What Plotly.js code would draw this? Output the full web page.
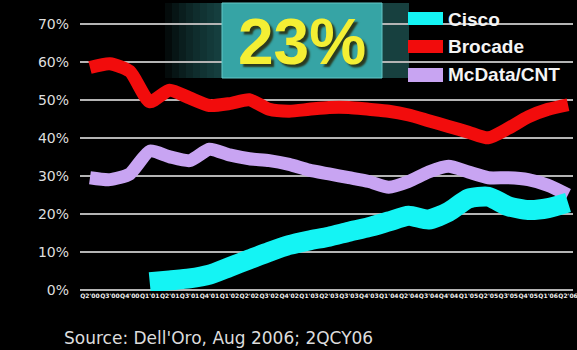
<!DOCTYPE html>
<html>
<head>
<meta charset="utf-8">
<script src="https://cdn.plot.ly/plotly-3.0.1.min.js"></script>
<style>
  html, body { margin: 0; padding: 0; background: #000; }
  #chart { width: 577px; height: 350px; }
</style>
</head>
<body>
<div id="chart"></div>
<script>
// ---- Data (market share, %) ----
const quarters = ["Q2'00","Q3'00","Q4'00","Q1'01","Q2'01","Q3'01","Q4'01",
  "Q1'02","Q2'02","Q3'02","Q4'02","Q1'03","Q2'03","Q3'03","Q4'03",
  "Q1'04","Q2'04","Q3'04","Q4'04","Q1'05","Q2'05","Q3'05","Q4'05",
  "Q1'06","Q2'06"];
const cisco   = [null,null,null,2,2.5,3,4,6,8,10,11.8,13,14,15.3,16.5,18,19.5,18.5,20.5,24,24.5,22,21,21.5,23];
const brocade = [58.5,59.5,57.5,49.5,52.5,50.5,48.5,49,50,47.5,47,47.5,48,48,47.5,47,46,44.5,43,41.5,40,42.5,45.5,47.5,48.7];
const mcdata  = [29.5,29,30.5,36.5,35,34,37,35.5,34.5,34,33,31.5,30.5,29.5,28.5,27,28.5,31,32.5,31,29.5,29.5,29,27.5,25];
const yTicks  = [0,10,20,30,40,50,60,70];
const yTickText = ["0%","10%","20%","30%","40%","50%","60%","70%"];
const seriesNames = ["Cisco","Brocade","McData/CNT"];
const headline = "23%";
const sourceNote = "Source: Dell'Oro, Aug 2006; 2QCY06";

const colors = { Cisco: "#14f4f4", Brocade: "#f20c0c", "McData/CNT": "#c8a4f2" };

// pixel helpers for decorations (plot area: x 80..573, y 1..291)
const L = 80, W = 493, T = 1, H = 290;
const px = v => (v - L) / W;
const py = v => (T + H - v) / H;

const traces = [
  { x: quarters, y: brocade, name: "Brocade", type: "scatter", mode: "lines",
    line: { color: colors.Brocade, width: 13, shape: "spline", smoothing: 0.6 }, hoverinfo: "skip" },
  { x: quarters, y: mcdata, name: "McData/CNT", type: "scatter", mode: "lines",
    line: { color: colors["McData/CNT"], width: 13, shape: "spline", smoothing: 0.6 }, hoverinfo: "skip" },
  { x: quarters, y: cisco, name: "Cisco", type: "scatter", mode: "lines", connectgaps: false,
    line: { color: colors.Cisco, width: 20, shape: "spline", smoothing: 0.6 }, hoverinfo: "skip" }
];

const shapes = [];
// left glow behind headline box
for (let i = 0; i < 8; i++) {
  shapes.push({ type: "rect", xref: "paper", yref: "paper", layer: "below",
    x0: px(165 + i * 7), x1: px(222), y0: py(78), y1: py(3),
    fillcolor: "#2b7f7c", opacity: 0.09, line: { width: 0 } });
}
// dark teal band right of the box
shapes.push({ type: "rect", xref: "paper", yref: "paper", layer: "below",
  x0: px(382), x1: px(409), y0: py(78), y1: py(3),
  fillcolor: "#17403f", line: { width: 0 } });
// black background behind legend
shapes.push({ type: "rect", xref: "paper", yref: "paper", layer: "between",
  x0: px(409), x1: px(580), y0: py(88), y1: py(-2),
  fillcolor: "#000000", line: { width: 0 } });
// headline box
shapes.push({ type: "rect", xref: "paper", yref: "paper", layer: "above",
  x0: px(222), x1: px(382), y0: py(78), y1: py(3),
  fillcolor: "#36a4a5", line: { color: "#62c6c6", width: 1 } });
// legend swatches
const swY = [[12, 25], [40, 53], [68, 82]];
seriesNames.forEach((n, i) => {
  shapes.push({ type: "rect", xref: "paper", yref: "paper", layer: "above",
    x0: px(408), x1: px(443), y0: py(swY[i][1]), y1: py(swY[i][0]),
    fillcolor: colors[n], line: { width: 0 } });
});

const annotations = [
  { text: headline, xref: "paper", yref: "paper", x: px(302), y: py(42),
    xanchor: "center", yanchor: "middle", showarrow: false,
    font: { family: "Liberation Sans, Arial, sans-serif", size: 64, color: "#f4ef34",
            weight: 700, shadow: "3px 3px 2px #2a3a20" } },
  { text: sourceNote, xref: "paper", yref: "paper", x: px(62), y: py(338),
    xanchor: "left", yanchor: "middle", showarrow: false,
    font: { family: "DejaVu Sans, sans-serif", size: 17, color: "#dcdcdc" } }
];
const labY = [19, 47, 75];
seriesNames.forEach((n, i) => {
  annotations.push({ text: n, xref: "paper", yref: "paper", x: px(446), y: py(labY[i]),
    xanchor: "left", yanchor: "middle", showarrow: false,
    font: { family: "Liberation Sans, Arial, sans-serif", size: 19, color: "#f4f4f4", weight: 700 } });
});

const layout = {
  width: 577, height: 350,
  paper_bgcolor: "#000", plot_bgcolor: "#000",
  margin: { l: L, r: 577 - L - W, t: T, b: 350 - T - H },
  showlegend: false,
  xaxis: {
    type: "category", range: [-0.5, 24.25],
    tickmode: "array", tickvals: quarters, ticktext: quarters,
    tickangle: 0, showgrid: false, zeroline: false, showline: false, ticks: "",
    tickfont: { family: "DejaVu Sans, sans-serif", size: 6, color: "#f0f0f0", weight: 700 },
    ticklabelstandoff: 0
  },
  yaxis: {
    range: [-0.3, 76], tickmode: "array", tickvals: yTicks, ticktext: yTickText,
    showgrid: true, gridcolor: "#b4b4b4", gridwidth: 2,
    zeroline: false, showline: false, ticks: "",
    tickfont: { family: "DejaVu Sans, sans-serif", size: 14, color: "#dedede" },
    ticklabelstandoff: 10
  },
  shapes: shapes,
  annotations: annotations
};

Plotly.newPlot("chart", traces, layout, { staticPlot: true, displayModeBar: false });
</script>
</body>
</html>
